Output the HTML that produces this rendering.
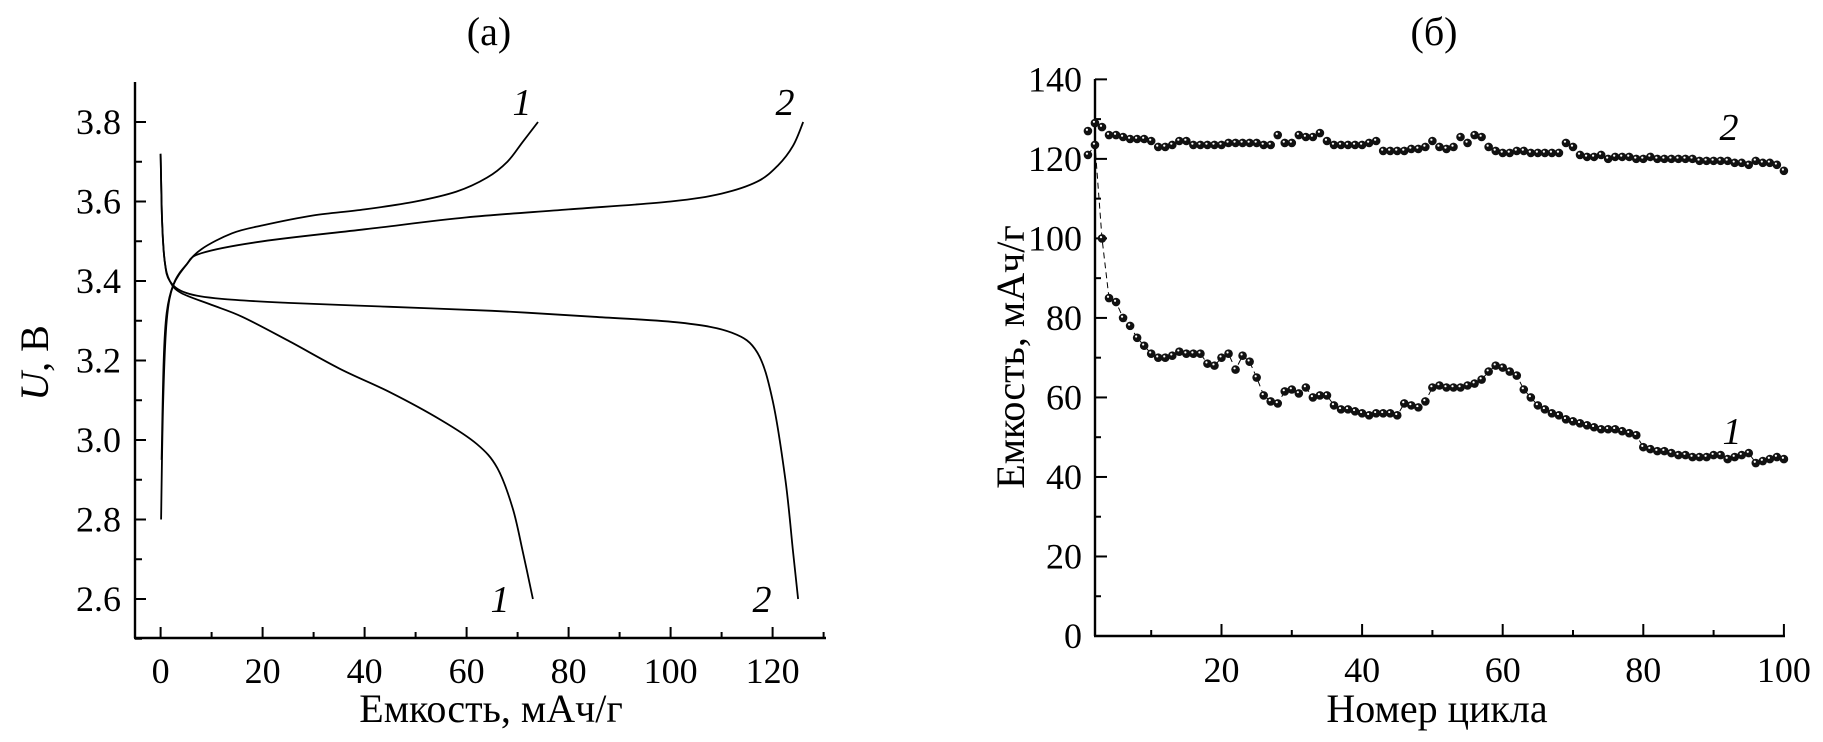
<!DOCTYPE html>
<html><head><meta charset="utf-8"><style>
html,body{margin:0;padding:0;background:#fff;}
svg{display:block;font-family:"Liberation Serif","DejaVu Serif",serif;}
</style></head><body>
<svg id="c" width="1823" height="742" viewBox="0 0 1823 742" xmlns="http://www.w3.org/2000/svg">
<text x="489" y="45" font-size="40" text-anchor="middle">(а)</text>
<text x="1434" y="45" font-size="40" text-anchor="middle">(б)</text>
<g id="A"></g>
<g id="B"></g>
</svg>
<script>
// Panel (a) data: [capacity, voltage]
const chg1 = [[0.2,2.95],[0.6,3.2],[1.2,3.32],[2.5,3.39],[5,3.44],[8,3.48],[14,3.52],[20,3.54],[30,3.565],[40,3.58],[50,3.6],[58,3.625],[64,3.66],[68,3.7],[71,3.75],[74,3.8]];
const chg2 = [[0.1,2.8],[0.5,3.1],[1.2,3.3],[2.5,3.39],[5,3.44],[8,3.47],[20,3.5],[40,3.53],[60,3.56],[80,3.58],[100,3.6],[110,3.62],[117,3.65],[121,3.69],[124,3.74],[126,3.8]];
const dis1 = [[0,3.72],[0.3,3.55],[0.8,3.45],[1.8,3.4],[4,3.37],[10,3.34],[16,3.31],[25,3.25],[35,3.18],[45,3.12],[55,3.05],[62,2.99],[66,2.93],[69,2.83],[71,2.72],[73,2.6]];
const dis2 = [[0,3.72],[0.3,3.55],[0.8,3.45],[1.8,3.4],[5,3.37],[12,3.355],[25,3.345],[45,3.335],[65,3.325],[85,3.31],[102,3.295],[112,3.27],[117,3.22],[120,3.1],[122.5,2.9],[124,2.72],[125,2.6]];
const aXTicks = [0,20,40,60,80,100,120];
const aYTicks = [2.6,2.8,3.0,3.2,3.4,3.6,3.8];
// Panel (б) data: capacity per cycle
const cycles = Array.from({length:100},(_,i)=>i+1);
const cap1 = [121,123.5,100,85,84,80,78,75,73,71,
70,70,70.5,71.5,71,71,71,68.5,68,70,
71,67,70.5,69,65,60.5,59,58.5,61.5,62,
61,62.5,60,60.5,60.5,58,57,57,56.5,56,
55.5,56,56,56,55.5,58.5,58,57.5,59,62.5,
63,62.5,62.5,62.5,63,63.5,64.5,66.5,68,67.5,
66.5,65.5,62,60,58,57,56,55.5,54.5,54,
53.5,53,52.5,52,52,52,51.5,51,50.5,47.5,
47,46.5,46.5,46,45.5,45.5,45,45,45,45.5,
45.5,44.5,45,45.5,46,43.5,44,44.5,45,44.5];
const cap2 = [127,129,128,126,126,125.5,125,125,125,124.5,
123,123,123.5,124.5,124.5,123.5,123.5,123.5,123.5,123.5,
124,124,124,124,124,123.5,123.5,126,124,124,
126,125.5,125.5,126.5,124.5,123.5,123.5,123.5,123.5,123.5,
124,124.5,122,122,122,122,122.5,122.5,123,124.5,
123,122.5,123,125.5,124,126,125.5,123,122,121.5,
121.5,122,122,121.5,121.5,121.5,121.5,121.5,124,123,
121,120.5,120.5,121,120,120.5,120.5,120.5,120,120,
120.5,120,120,120,120,120,120,119.5,119.5,119.5,
119.5,119.5,119,119,118.5,119.5,119,119,118.5,117];
const bXTicks = [20,40,60,80,100];
const bYTicks = [0,20,40,60,80,100,120,140];

const NS="http://www.w3.org/2000/svg";
function mk(parent,tag,attrs,text){const e=document.createElementNS(NS,tag);for(const k in attrs)e.setAttribute(k,attrs[k]);if(text!==undefined)e.textContent=text;parent.appendChild(e);return e;}

// ---------- Panel A ----------
const A=document.getElementById('A');
const ax=v=>160.6+(v-0)*5.1;
const ay=v=>599-(v-2.6)*397.5;
function smooth(pts){
  let d='M'+pts[0][0].toFixed(1)+','+pts[0][1].toFixed(1);
  for(let i=0;i<pts.length-1;i++){
    const p0=pts[Math.max(0,i-1)],p1=pts[i],p2=pts[i+1],p3=pts[Math.min(pts.length-1,i+2)];
    const c1=[p1[0]+(p2[0]-p0[0])/6,p1[1]+(p2[1]-p0[1])/6];
    const c2=[p2[0]-(p3[0]-p1[0])/6,p2[1]-(p3[1]-p1[1])/6];
    d+=' C'+c1[0].toFixed(1)+','+c1[1].toFixed(1)+' '+c2[0].toFixed(1)+','+c2[1].toFixed(1)+' '+p2[0].toFixed(1)+','+p2[1].toFixed(1);
  }
  return d;
}
[[chg1,'charge-curve-1'],[chg2,'charge-curve-2'],[dis1,'discharge-curve-1'],[dis2,'discharge-curve-2']].forEach(([s,n])=>{
  const p=mk(A,'path',{d:smooth(s.map(q=>[ax(q[0]),ay(q[1])])),fill:'none',stroke:'#000','stroke-width':1.8});
  
  
});
let l=mk(A,'line',{x1:135,y1:82,x2:135,y2:638,stroke:'#000','stroke-width':2.4});


l=mk(A,'line',{x1:134,y1:638,x2:826,y2:638,stroke:'#000','stroke-width':2.4});


for(let v=0;v<=130;v+=10){const X=ax(v);mk(A,'line',{x1:X,y1:638,x2:X,y2:638-(v%20===0?11:6),stroke:'#000','stroke-width':2});}
aXTicks.forEach(v=>{const t=mk(A,'text',{x:ax(v),y:683,'font-size':36,'text-anchor':'middle'},String(v));
  
  });
for(let i=0;i<=13;i++){const v=2.5+i*0.1;const Y=ay(v);if(Y<82)continue;const major=(i%2===1);mk(A,'line',{x1:135,y1:Y,x2:135+(major?11:7),y2:Y,stroke:'#000','stroke-width':2});}
aYTicks.forEach(v=>{const t=mk(A,'text',{x:121,y:ay(v)+12,'font-size':36,'text-anchor':'end'},v.toFixed(1));
  
  });
let t=mk(A,'text',{x:491,y:722,'font-size':40,'text-anchor':'middle'},'Емкость, мАч/г');


t=mk(A,'text',{x:0,y:0,'font-size':40,'text-anchor':'middle',transform:'translate(48,363) rotate(-90)'});
mk(t,'tspan',{'font-style':'italic'},'U');mk(t,'tspan',{},', В');


[[522,115,'1','label-charge-1'],[785,115,'2','label-charge-2'],[500,612,'1','label-discharge-1'],[762,612,'2','label-discharge-2']].forEach(([x,y,s,n])=>{
  const e=mk(A,'text',{x:x,y:y,'font-size':38,'font-style':'italic','text-anchor':'middle'},s);
  
  
});

// ---------- Panel B ----------
const B=document.getElementById('B');
const bx=v=>1221.5+(v-20)*7.03;
const by=v=>636-v*3.976;
l=mk(B,'line',{x1:1095,y1:79,x2:1095,y2:636,stroke:'#000','stroke-width':2.4});


l=mk(B,'line',{x1:1094,y1:636,x2:1785,y2:636,stroke:'#000','stroke-width':2.4});


for(let v=10;v<=100;v+=10){const X=bx(v);mk(B,'line',{x1:X,y1:636,x2:X,y2:636-(v%20===0?12:6),stroke:'#000','stroke-width':2});}
bXTicks.forEach(v=>{const e=mk(B,'text',{x:bx(v),y:682,'font-size':36,'text-anchor':'middle'},String(v));
  
  });
for(let v=0;v<=140;v+=10){const Y=by(v);mk(B,'line',{x1:1095,y1:Y,x2:1095+(v%20===0?12:6),y2:Y,stroke:'#000','stroke-width':2});}
bYTicks.forEach(v=>{const e=mk(B,'text',{x:1082,y:by(v)+12,'font-size':36,'text-anchor':'end'},String(v));
  
  });
t=mk(B,'text',{x:1437,y:722,'font-size':40,'text-anchor':'middle'},'Номер цикла');


t=mk(B,'text',{x:0,y:0,'font-size':40,'text-anchor':'middle',transform:'translate(1024,357) rotate(-90)'},'Емкость, мАч/г');


let d1='';cycles.forEach((c,i)=>{d1+=(i?'L':'M')+bx(c).toFixed(1)+','+by(cap1[i]).toFixed(1);});
const ln=mk(B,'path',{d:d1,fill:'none',stroke:'#000','stroke-width':1,'stroke-dasharray':'6,4'});


function dots(vals,name){
  const g=mk(B,'g',{});
  
  
  cycles.forEach((c,i)=>{
    const X=bx(c),Y=by(vals[i]);
    const p=mk(g,'circle',{cx:X,cy:Y,r:4.3,fill:'#111'});
    
    
    mk(g,'circle',{cx:X-1,cy:Y-1.3,r:1.1,fill:'#fff'});
  });
}
dots(cap1,'series-1-points');
dots(cap2,'series-2-points');
[[1729,140,'2','label-series-2'],[1732,444,'1','label-series-1']].forEach(([x,y,s,n])=>{
  const e=mk(B,'text',{x:x,y:y,'font-size':38,'font-style':'italic','text-anchor':'middle'},s);
  
  
});
</script>
</body></html>
